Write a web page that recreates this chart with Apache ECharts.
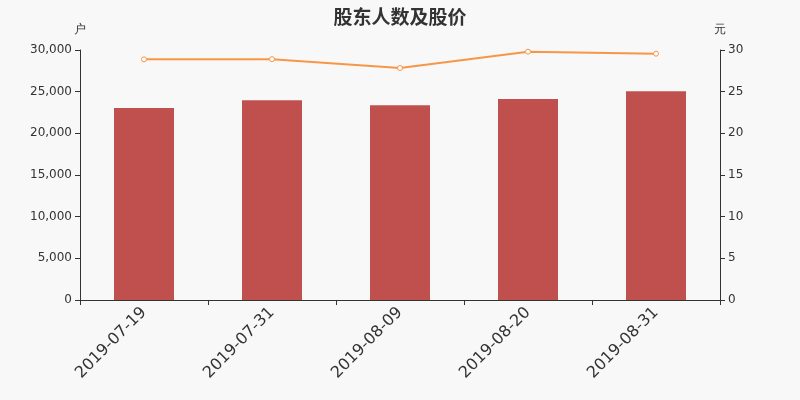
<!DOCTYPE html>
<html>
<head>
<meta charset="utf-8">
<script src="https://cdn.jsdelivr.net/npm/echarts@6/dist/echarts.min.js"></script>
<style>
  html, body { margin: 0; padding: 0; background: #f8f8f8; }
  #main { width: 800px; height: 400px; }
</style>
</head>
<body>
<div id="main"></div>
<script>
var dates = ['2019-07-19', '2019-07-31', '2019-08-09', '2019-08-20', '2019-08-31'];
var holders = [23040, 23960, 23360, 24120, 25040];
var prices = [28.88, 28.9, 27.84, 29.8, 29.56];

var myChart = echarts.init(document.getElementById('main'));
var textColor = '#333333';
var option = {
    backgroundColor: '#f8f8f8',
    animation: false,
    title: {
        text: '股东人数及股价',
        left: 'center',
        top: 2,
        textStyle: { color: '#333', fontSize: 19, fontWeight: 'bold', fontFamily: 'Noto Sans CJK SC' }
    },
    grid: { left: 80, right: 80, top: 50, bottom: 100 },
    xAxis: {
        type: 'category',
        data: dates,
        axisTick: { show: true, alignWithLabel: false, lineStyle: { color: textColor } },
        axisLine: { lineStyle: { color: textColor } },
        axisLabel: { rotate: 45, fontSize: 16, color: textColor, fontFamily: 'DejaVu Sans', margin: 10 }
    },
    yAxis: [{
        type: 'value',
        name: '户',
        nameGap: 14,
        nameTextStyle: { color: textColor, fontSize: 12 },
        min: 0, max: 30000, interval: 5000,
        splitLine: { show: false },
        axisLine: { show: true, lineStyle: { color: textColor } },
        axisTick: { show: true, lineStyle: { color: textColor } },
        axisLabel: {
            color: textColor, fontSize: 12, fontFamily: 'DejaVu Sans',
            formatter: function (v) { return v.toLocaleString('en-US'); }
        }
    }, {
        type: 'value',
        name: '元',
        nameGap: 14,
        nameTextStyle: { color: textColor, fontSize: 12 },
        min: 0, max: 30, interval: 5,
        splitLine: { show: false },
        axisLine: { show: true, lineStyle: { color: textColor } },
        axisTick: { show: true, lineStyle: { color: textColor } },
        axisLabel: { color: textColor, fontSize: 12, fontFamily: 'DejaVu Sans' }
    }],
    series: [{
        name: '股东人数',
        type: 'bar',
        barWidth: 60,
        itemStyle: { color: '#c0504d' },
        data: holders
    }, {
        name: '股价',
        type: 'line',
        yAxisIndex: 1,
        symbol: 'circle',
        symbolSize: 5,
        showAllSymbol: true,
        lineStyle: { color: '#f79646', width: 2 },
        itemStyle: { color: '#ffffff', borderColor: '#f79646', borderWidth: 1 },
        data: prices
    }]
};
myChart.setOption(option);
</script>
</body>
</html>
